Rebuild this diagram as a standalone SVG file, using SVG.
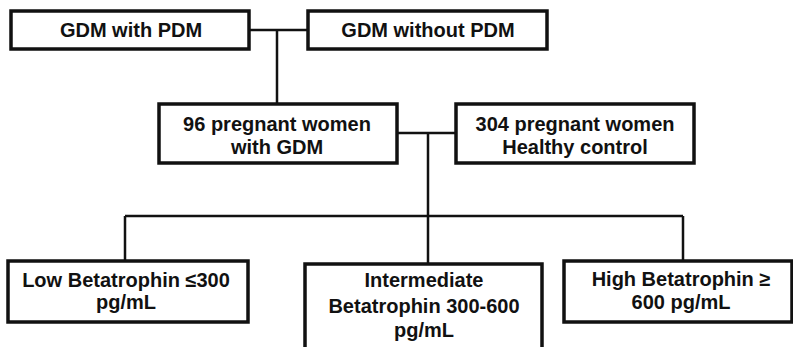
<svg xmlns="http://www.w3.org/2000/svg" width="793" height="347" viewBox="0 0 793 347">
<style>
.box{fill:#fff;stroke:#111;stroke-width:3.5}
.ln{fill:none;stroke:#111;stroke-width:2.5}
text{font-family:"Liberation Sans",Arial,sans-serif;font-weight:bold;font-size:20px;fill:#111;text-anchor:middle}
</style>
<rect width="793" height="347" fill="#fff"/>
<g id="connectors">
<path class="ln" d="M249 30H308M277 30V104"/>
<path class="ln" d="M397 133H456M428 133V263M125 216H683M125 216V261M683 216V261"/>
</g>
<g id="n1"><rect class="box" x="11" y="11" width="238" height="38"/><text x="131" y="37">GDM with PDM</text></g>
<g id="n2"><rect class="box" x="308" y="11" width="239" height="38"/><text x="428" y="37">GDM without PDM</text></g>
<g id="n3"><rect class="box" x="159" y="104" width="238" height="59"/><text x="277" y="131">96 pregnant women</text><text x="277" y="154">with GDM</text></g>
<g id="n4"><rect class="box" x="456" y="104" width="238" height="59"/><text x="575" y="131">304 pregnant women</text><text x="575" y="154">Healthy control</text></g>
<g id="n5"><rect class="box" x="8" y="261" width="240" height="61"/><text x="126" y="287">Low Betatrophin ≤300</text><text x="126" y="309">pg/mL</text></g>
<g id="n6"><rect class="box" x="305" y="264" width="237" height="90"/><text x="424" y="287">Intermediate</text><text x="424" y="313">Betatrophin 300-600</text><text x="424" y="337">pg/mL</text></g>
<g id="n7"><rect class="box" x="564" y="261" width="228" height="61"/><text x="681" y="286">High Betatrophin ≥</text><text x="681" y="309">600 pg/mL</text></g>
</svg>
